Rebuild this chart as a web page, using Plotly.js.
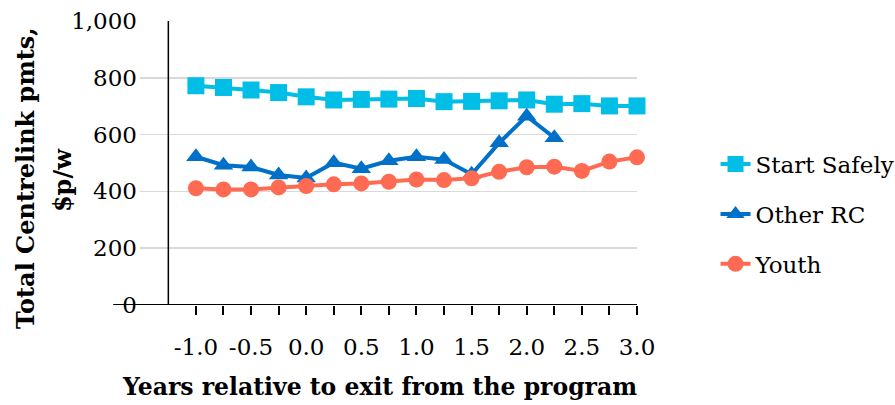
<!DOCTYPE html>
<html>
<head>
<meta charset="utf-8">
<script src="https://cdn.plot.ly/plotly-3.0.1.min.js"></script>
<style>
  html, body { margin: 0; padding: 0; background: #fff; }
  #chart { width: 895px; height: 405px; }
</style>
</head>
<body>
<div id="chart"></div>
<script>
// Years relative to exit from the program (quarterly steps)
const years = [-1.0, -0.75, -0.5, -0.25, 0.0, 0.25, 0.5, 0.75, 1.0, 1.25, 1.5, 1.75, 2.0, 2.25, 2.5, 2.75, 3.0];

// Total Centrelink payments, $ per week
const startSafely = [772, 766, 757, 748, 733, 722, 724, 725, 727, 716, 717, 719, 722, 707, 709, 701, 701];
const otherRC     = [522, 492, 486, 458, 447, 501, 480, 508, 522, 512, 460, 571, 665, 589];
const youth       = [411, 407, 407, 414, 419, 425, 428, 434, 442, 440, 446, 469, 485, 487, 472, 505, 520];

const seriesNames = ['Start Safely', 'Other RC', 'Youth'];

// Tick marks every quarter year, labels every half year
const xTickVals = years;
const xTickText = years.map((v, i) => (i % 2 === 0 ? v.toFixed(1) : ''));

const SERIF = '"DejaVu Serif", "Liberation Serif", serif';
const colors = { ss: '#00BEE6', rc: '#0070C8', yo: '#FF6B52' };

const traces = [
  {
    x: years, y: startSafely, name: seriesNames[0], type: 'scatter', mode: 'lines+markers',
    line: { color: colors.ss, width: 4 },
    marker: { symbol: 'square', size: 17, color: colors.ss },
    legendgroup: 'a', cliponaxis: false
  },
  {
    x: years.slice(0, otherRC.length), y: otherRC, name: seriesNames[1], type: 'scatter', mode: 'lines+markers',
    line: { color: colors.rc, width: 4 },
    marker: { symbol: 'triangle-up', size: 17, color: colors.rc },
    legendgroup: 'b', cliponaxis: false
  },
  {
    x: years, y: youth, name: seriesNames[2], type: 'scatter', mode: 'lines+markers',
    line: { color: colors.yo, width: 4 },
    marker: { symbol: 'circle', size: 16, color: colors.yo },
    legendgroup: 'c', cliponaxis: false
  }
];

const layout = {
  width: 895, height: 405,
  margin: { l: 140, r: 257.5, t: 21, b: 100, autoexpand: false },
  paper_bgcolor: '#fff', plot_bgcolor: '#fff',
  font: { family: SERIF, size: 23, color: '#000' },
  showlegend: true,
  legend: {
    x: 1.158, xanchor: 'left', y: 0.32, yanchor: 'middle',
    traceorder: 'grouped', tracegroupgap: 17,
    font: { family: SERIF, size: 23, color: '#000' },
    bgcolor: 'rgba(0,0,0,0)', itemwidth: 30
  },
  xaxis: {
    range: [-1.507, 3.0], automargin: false,
    tickmode: 'array', tickvals: xTickVals, ticktext: xTickText,
    ticks: 'outside', ticklen: 9, tickwidth: 2, tickcolor: '#000',
    showgrid: false, zeroline: false, showline: false,
    tickfont: { family: SERIF, size: 23, color: '#000' },
    ticklabelstandoff: 12, fixedrange: true
  },
  yaxis: {
    range: [0, 1000], dtick: 200, tickformat: ',d', automargin: false,
    showgrid: true, gridcolor: '#D9D9D9', gridwidth: 1.5,
    zeroline: false, showline: false, ticks: '',
    tickfont: { family: SERIF, size: 23, color: '#000' },
    ticklabelstandoff: 2, fixedrange: true
  },
  shapes: [
    // vertical axis line, crossing at -1.25
    { type: 'line', xref: 'x', yref: 'y', x0: -1.25, x1: -1.25, y0: 0, y1: 1000,
      line: { color: '#000', width: 1.5 } },
    // horizontal axis line at zero
    { type: 'line', xref: 'paper', yref: 'y', x0: -0.054, x1: 1, y0: 0, y1: 0,
      line: { color: '#000', width: 2 } }
  ],
  annotations: [
    { text: '<b>Years relative to exit from the program</b>', xref: 'paper', yref: 'paper',
      x: (380 - 140) / 497.5, y: 0, yshift: -82, xanchor: 'center', yanchor: 'middle',
      showarrow: false, font: { family: SERIF, size: 23.5, color: '#000' } },
    { text: '<b>Total Centrelink pmts,</b>', xref: 'paper', yref: 'paper',
      x: (25 - 140) / 497.5, y: (405 - 100 - 178) / 284, xanchor: 'center', yanchor: 'middle',
      textangle: -90, showarrow: false, font: { family: SERIF, size: 24, color: '#000' } },
    { text: '<b>$p/w</b>', xref: 'paper', yref: 'paper',
      x: (62 - 140) / 497.5, y: (405 - 100 - 180) / 284, xanchor: 'center', yanchor: 'middle',
      textangle: -90, showarrow: false, font: { family: SERIF, size: 24, color: '#000' } }
  ]
};

Plotly.newPlot('chart', traces, layout, { displayModeBar: false, staticPlot: true });
</script>
</body>
</html>
